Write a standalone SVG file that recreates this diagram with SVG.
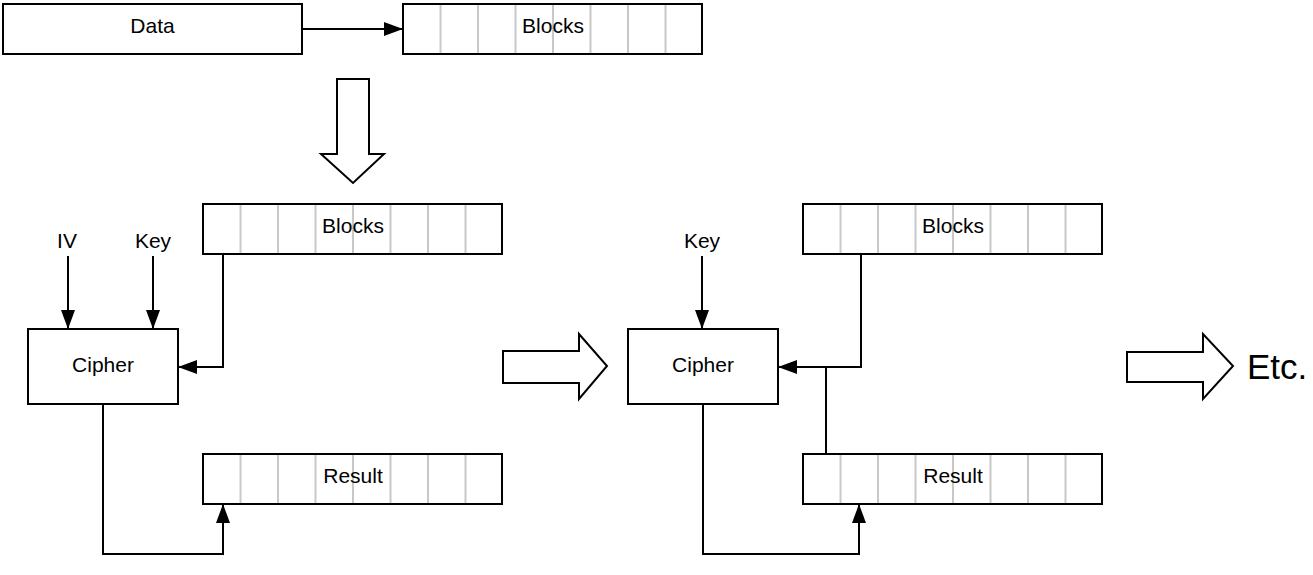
<svg xmlns="http://www.w3.org/2000/svg" width="1313" height="575" viewBox="0 0 1313 575">
<style>
.box{fill:#fff;stroke:#000;stroke-width:2}
.cell{stroke:#c8c8c8;stroke-width:2}
.lbl{font-family:"Liberation Sans",Arial,sans-serif;font-size:21px;fill:#000;text-anchor:middle}
.conn{fill:none;stroke:#000;stroke-width:2}
.big{fill:#fff;stroke:#000;stroke-width:2;stroke-linejoin:miter}
</style>
<defs>
<marker id="ah" viewBox="0 0 19 14" refX="18" refY="7" markerWidth="19" markerHeight="14" markerUnits="userSpaceOnUse" orient="auto">
<path d="M0 0 L19 7 L0 14 z" fill="#000"/>
</marker>
<g id="cells">
<line class="cell" x1="37.5" y1="1" x2="37.5" y2="49"/>
<line class="cell" x1="75" y1="1" x2="75" y2="49"/>
<line class="cell" x1="112.5" y1="1" x2="112.5" y2="49"/>
<line class="cell" x1="150" y1="1" x2="150" y2="49"/>
<line class="cell" x1="187.5" y1="1" x2="187.5" y2="49"/>
<line class="cell" x1="225" y1="1" x2="225" y2="49"/>
<line class="cell" x1="262.5" y1="1" x2="262.5" y2="49"/>
</g>
</defs>
<rect width="1313" height="575" fill="#fff"/>

<g id="data">
<rect class="box" x="3" y="4" width="299" height="50"/>
<text class="lbl" x="152.5" y="33">Data</text>
</g>

<g id="blocks-top">
<rect class="box" x="403" y="4" width="299" height="50"/>
<use href="#cells" x="403" y="4"/>
<rect x="403" y="4" width="299" height="50" fill="none" stroke="#000" stroke-width="2"/>
<text class="lbl" x="553" y="33">Blocks</text>
</g>

<g id="down-arrow">
<path class="big" d="M337 79 H369 V154 H384 L353 183 L321 154 H337 Z"/>
</g>

<g id="iv-label"><text class="lbl" x="67" y="248">IV</text></g>
<g id="key-label-1"><text class="lbl" x="153" y="248">Key</text></g>

<g id="cipher-1">
<rect class="box" x="28" y="329" width="150" height="75"/>
<text class="lbl" x="103" y="372">Cipher</text>
</g>

<g id="blocks-1">
<rect class="box" x="203" y="204" width="299" height="50"/>
<use href="#cells" x="203" y="204"/>
<rect x="203" y="204" width="299" height="50" fill="none" stroke="#000" stroke-width="2"/>
<text class="lbl" x="353" y="233">Blocks</text>
</g>

<g id="result-1">
<rect class="box" x="203" y="454" width="299" height="50"/>
<use href="#cells" x="203" y="454"/>
<rect x="203" y="454" width="299" height="50" fill="none" stroke="#000" stroke-width="2"/>
<text class="lbl" x="353" y="483">Result</text>
</g>

<g id="right-arrow-1">
<path class="big" d="M503 351 H579 V334 L607 366 L579 399 V383 H503 Z"/>
</g>

<g id="key-label-2"><text class="lbl" x="702" y="248">Key</text></g>

<g id="cipher-2">
<rect class="box" x="628" y="329" width="150" height="75"/>
<text class="lbl" x="703" y="372">Cipher</text>
</g>

<g id="blocks-2">
<rect class="box" x="803" y="204" width="299" height="50"/>
<use href="#cells" x="803" y="204"/>
<rect x="803" y="204" width="299" height="50" fill="none" stroke="#000" stroke-width="2"/>
<text class="lbl" x="953" y="233">Blocks</text>
</g>

<g id="result-2">
<rect class="box" x="803" y="454" width="299" height="50"/>
<use href="#cells" x="803" y="454"/>
<rect x="803" y="454" width="299" height="50" fill="none" stroke="#000" stroke-width="2"/>
<text class="lbl" x="953" y="483">Result</text>
</g>

<g id="right-arrow-2">
<path class="big" d="M1127 352 H1203 V334 L1233 366 L1203 399 V382 H1127 Z"/>
</g>

<g id="etc">
<text x="1247" y="379" style="font-family:'Liberation Sans',Arial,sans-serif;font-size:35px;fill:#000">Etc.</text>
</g>

<g id="connectors">
<path class="conn" d="M302 29 H402" marker-end="url(#ah)"/>
<path class="conn" d="M68 256 V328" marker-end="url(#ah)"/>
<path class="conn" d="M153 256 V328" marker-end="url(#ah)"/>
<path class="conn" d="M223 254 V367 H179" marker-end="url(#ah)"/>
<path class="conn" d="M103 404 V554 H223 V505" marker-end="url(#ah)"/>
<path class="conn" d="M702 256 V328" marker-end="url(#ah)"/>
<path class="conn" d="M861 254 V367 H779" marker-end="url(#ah)"/>
<path class="conn" d="M826 454 V367"/>
<path class="conn" d="M703 404 V554 H859 V505" marker-end="url(#ah)"/>
</g>
</svg>
